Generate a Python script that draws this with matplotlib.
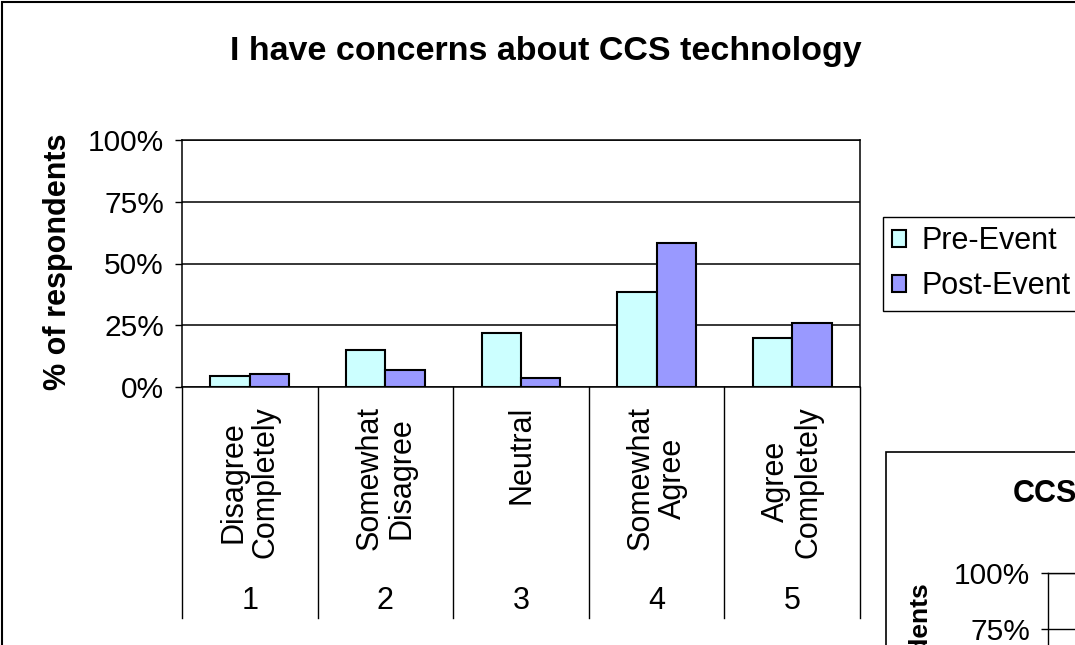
"""
Survey response chart: "I have concerns about CCS technology",
pre- vs post-event share of respondents per agreement level.
"""

import matplotlib
matplotlib.use("Agg")
import matplotlib.pyplot as plt
from matplotlib.patches import Rectangle
from matplotlib.ticker import FuncFormatter

plt.rcParams['font.family'] = ['Liberation Sans', 'DejaVu Sans']

# Survey data (% of respondents)
categories = ["Disagree\nCompletely", "Somewhat\nDisagree", "Neutral",
              "Somewhat\nAgree", "Agree\nCompletely"]
scale_points = ["1", "2", "3", "4", "5"]
pre_event = [4.3, 14.8, 21.7, 38.3, 19.9]
post_event = [5.3, 7.0, 3.5, 58.2, 26.1]
series_names = ["Pre-Event", "Post-Event"]
y_ticks = [0, 25, 50, 75, 100]

PRE_COLOR = '#CCFFFF'
POST_COLOR = '#9999FF'

W, H = 1075, 645


def fx(px):
    """Pixel x -> figure fraction."""
    return px / W


def fy(py):
    """Pixel y (from top) -> figure fraction."""
    return 1 - py / H


def pct(v, _):
    return f"{v:.0f}%"


def draw_main_chart(fig):
    """Clustered bars with a two-level category axis."""
    ax = fig.add_axes([fx(182), fy(387), fx(860) - fx(182), fy(140) - fy(387)])

    n = len(categories)
    xs = list(range(n))
    width = 0.29
    ax.bar([x - width / 2 for x in xs], pre_event, width, color=PRE_COLOR,
           edgecolor='black', linewidth=1.5, label=series_names[0], zorder=3)
    ax.bar([x + width / 2 for x in xs], post_event, width, color=POST_COLOR,
           edgecolor='black', linewidth=1.5, label=series_names[1], zorder=3)

    ax.set_xlim(-0.5, n - 0.5)
    ax.set_ylim(0, 100)
    ax.set_yticks(y_ticks)
    ax.yaxis.set_major_formatter(FuncFormatter(pct))
    ax.tick_params(axis='y', direction='out', length=5, width=1.0,
                   pad=8, labelsize=21.5)
    ax.set_xticks([])
    ax.yaxis.grid(True, color='black', linewidth=1.1, zorder=0)
    for side in ['left', 'right', 'top', 'bottom']:
        ax.spines[side].set_color('black')
        ax.spines[side].set_linewidth(1.1)

    # category separators running down through the label area
    trans = ax.get_xaxis_transform()
    depth = -(618 - 387) / (387 - 140)
    for b in range(n + 1):
        ax.plot([b - 0.5, b - 0.5], [0, depth], color='black', linewidth=1.0,
                transform=trans, clip_on=False)

    label_top = -(406 - 387) / (387 - 140)
    number_y = -(601 - 387) / (387 - 140)
    for x, name, num in zip(xs, categories, scale_points):
        ax.text(x, label_top, name, transform=trans, rotation=90,
                ha='center', va='top', multialignment='center',
                fontsize=22, linespacing=1.1)
        ax.text(x, number_y, num, transform=trans, ha='center', va='center',
                fontsize=22)

    fig.text(fx(546), fy(60), "I have concerns about CCS technology",
             ha='center', va='baseline', fontsize=24.5, fontweight='bold')
    fig.text(fx(58), fy(262), "% of respondents", rotation=90,
             ha='center', va='center', fontsize=22, fontweight='bold')

    leg = fig.legend(loc='upper left', bbox_to_anchor=(fx(883), fy(217)),
                     borderaxespad=0, fontsize=22, handlelength=0.46,
                     handleheight=0.46, handletextpad=0.5, labelspacing=0.5,
                     borderpad=0.3, fancybox=False, framealpha=1,
                     edgecolor='black')
    leg.get_frame().set_linewidth(1.0)
    for patch in leg.get_patches():
        patch.set_linewidth(1.5)
    return ax


def draw_side_chart(fig):
    """Second chart sitting over the lower right corner."""
    fig.patches.append(Rectangle((fx(886), fy(900)), fx(400), fy(452) - fy(900),
                                 transform=fig.transFigure, facecolor='white',
                                 edgecolor='black', linewidth=1.2, zorder=5))

    # only the top of this chart's value axis is in view (100% at y=573,
    # 56 px per 25%)
    y_low = 100 - 25 * (H - 573) / 56
    ax2 = fig.add_axes([fx(1048), 0, fx(300), fy(573)])
    ax2.set_zorder(6)
    ax2.set_ylim(y_low, 100)
    ax2.set_xlim(0, 1)
    ax2.set_yticks([t for t in y_ticks if t >= y_low])
    ax2.yaxis.set_major_formatter(FuncFormatter(pct))
    ax2.tick_params(axis='y', direction='out', length=5, width=1.0,
                    pad=8, labelsize=21.5)
    ax2.set_xticks([])
    ax2.yaxis.grid(True, color='black', linewidth=1.0)
    ax2.spines['bottom'].set_visible(False)
    for side in ['left', 'right', 'top']:
        ax2.spines[side].set_linewidth(1.0)

    t1 = fig.text(fx(1013), fy(502), "CCS", ha='left', va='baseline',
                  fontsize=22, fontweight='bold')
    t2 = fig.text(fx(921), fy(583), "% of respondents", rotation=90,
                  ha='center', va='top', fontsize=19, fontweight='bold')
    t1.set_zorder(7)
    t2.set_zorder(7)


def main():
    fig = plt.figure(figsize=(W / 100, H / 100), dpi=100)

    # outer chart border
    fig.patches.append(Rectangle((fx(2), fy(900)), fx(1200), fy(2) - fy(900),
                                 transform=fig.transFigure, facecolor='none',
                                 edgecolor='black', linewidth=1.5))

    draw_main_chart(fig)
    draw_side_chart(fig)

    fig.savefig('out.png', dpi=100)
    plt.close(fig)


if __name__ == "__main__":
    main()
